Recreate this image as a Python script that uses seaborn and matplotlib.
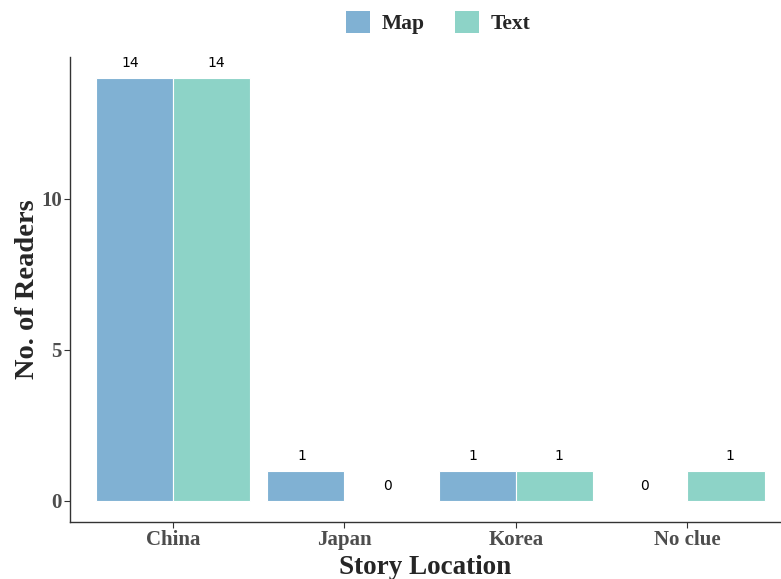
import pandas as pd
import seaborn as sns
import matplotlib.pyplot as plt
from matplotlib.patches import Patch

# Chart data
locations = ['China', 'Japan', 'Korea', 'No clue']
map_readers = [14, 1, 1, 0]
text_readers = [14, 0, 1, 1]
groups = ['Map', 'Text']
colors = ['#80B1D3', '#8DD3C7']

df = pd.DataFrame({
    'location': locations * 2,
    'group': ['Map'] * len(locations) + ['Text'] * len(locations),
    'readers': map_readers + text_readers,
})

sns.set_style('ticks')
serif = ['Liberation Serif', 'DejaVu Serif']

fig = plt.figure(figsize=(7.81, 5.79), dpi=100, facecolor='white')
ax = fig.add_axes([70 / 781, 57 / 579, 711 / 781, 465 / 579])

sns.barplot(data=df, x='location', y='readers', hue='group', order=locations,
            hue_order=groups, palette=colors, width=0.9, saturation=1,
            edgecolor='white', linewidth=0.8, legend=False, ax=ax)

# count labels, dodged a little wider than the bars (like ggplot's default)
for k, vals in enumerate([map_readers, text_readers]):
    shift = -0.25 if k == 0 else 0.25
    for i, v in enumerate(vals):
        ax.annotate(str(v), (i + shift, v), xytext=(0, 5.5), textcoords='offset points',
                    ha='center', va='bottom', fontsize=10, family='DejaVu Sans',
                    color='black')

ax.set_xlim(-0.6, 3.546)
ax.set_ylim(-0.7, 14.7)
ax.set_yticks([0, 5, 10])
ax.tick_params(axis='both', length=4, width=0.8, color='#333333',
               labelcolor='#4D4D4D', pad=2)
for lab in ax.get_xticklabels() + ax.get_yticklabels():
    lab.set_family(serif)
    lab.set_fontsize(15)
    lab.set_fontweight('bold')

ax.set_xlabel('Story Location', family=serif, fontsize=19.5, fontweight='bold', labelpad=3)
ax.set_ylabel('No. of Readers', family=serif, fontsize=20.5, fontweight='bold', labelpad=1)
sns.despine(ax=ax)
for s in ['left', 'bottom']:
    ax.spines[s].set_color('#333333')
    ax.spines[s].set_linewidth(1.0)

handles = [Patch(facecolor=c, edgecolor='none') for c in colors]
fig.legend(handles, groups, loc='upper center', bbox_to_anchor=(0.561, 1.015), ncol=2,
           frameon=False, prop={'family': serif, 'size': 15.5, 'weight': 'bold'},
           handlelength=1.1, handleheight=1.2, columnspacing=1.4, handletextpad=0.55)

fig.savefig('out.png', dpi=100, facecolor='white')
